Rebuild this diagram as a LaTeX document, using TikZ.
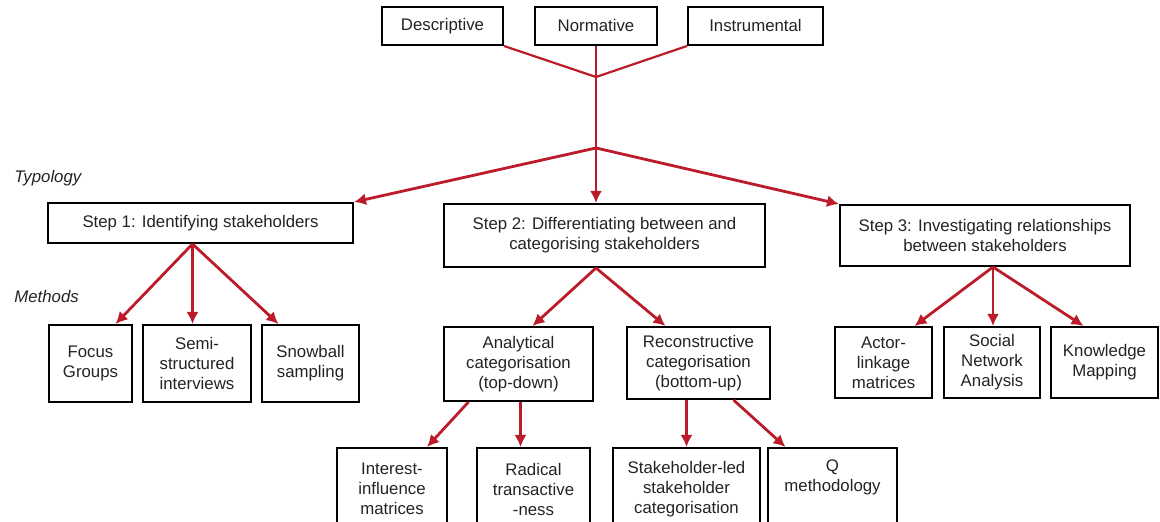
\documentclass[tikz,border=0pt]{standalone}
\usepackage{fontspec}
\setmainfont{Liberation Sans}
\usetikzlibrary{positioning,calc,arrows.meta}
\definecolor{linkred}{RGB}{188,28,42}
\definecolor{boxtext}{RGB}{35,35,35}

\begin{document}
\begin{tikzpicture}[
x=0.5pt,y=-0.5pt,
box/.style={
  draw,
  line width=1pt,
  text=boxtext,
  align=center,
  inner sep=1pt,
  font=\fontsize{8.4}{10}\selectfont
},
tag/.style={
  anchor=west,
  text=boxtext,
  inner sep=0pt,
  font=\fontsize{8.4}{10}\selectfont\itshape
},
feed/.style={
  draw=linkred,
  line width=1.1pt
},
link/.style={
  draw=linkred,
  line width=1.4pt,
  -{Latex[length=6pt,width=6pt]}
}
]
\useasboundingbox (0,0) rectangle (1160,522);
\clip (0,0) rectangle (1160,522);

% typology
\node[box,minimum width=60.5pt,minimum height=19pt] at (442.5,26)
  (desc) {Descriptive};
\node[box,minimum width=61pt,minimum height=19pt] at (596,26)
  (norm) {Normative};
\node[box,minimum width=67.5pt,minimum height=19pt] at (755.5,26)
  (instr) {Instrumental};
\coordinate (merge) at (596,77);
\coordinate (hub) at (596,148);

\node[tag] at (14,178) (typo) {Typology};
\node[tag] at (14,297) (meth) {Methods};

% steps
\node[box,minimum width=152.5pt,minimum height=20pt] at (200.5,223)
  (step1) {Step 1: Identifying stakeholders};
\node[box,minimum width=160.5pt,minimum height=31.5pt] at (604.5,235.5)
  (step2) {Step 2: Differentiating between and\\categorising stakeholders};
\node[box,minimum width=145pt,minimum height=30.5pt] at (985,235.5)
  (step3) {Step 3: Investigating relationships\\between stakeholders};

% methods
\node[box,minimum width=41.5pt,minimum height=38.5pt] at (90.5,363.5)
  (focus) {Focus\\Groups};
\node[box,minimum width=54pt,minimum height=38.5pt] at (197,363.5)
  (semi) {Semi-\\structured\\interviews};
\node[box,minimum width=48.5pt,minimum height=38.5pt] at (310.5,363.5)
  (snow) {Snowball\\sampling};
\node[box,minimum width=74.5pt,minimum height=37pt] at (518.5,364)
  (analyt) {Analytical\\categorisation\\(top-down)};
\node[box,minimum width=71.5pt,minimum height=36pt] at (698.5,363)
  (recon) {Reconstructive\\categorisation\\(bottom-up)};
\node[box,minimum width=48.5pt,minimum height=35.5pt] at (883.5,362.5)
  (actor) {Actor-\\linkage\\matrices};
\node[box,minimum width=48pt,minimum height=35.5pt] at (992,362.5)
  (sna) {Social\\Network\\Analysis};
\node[box,minimum width=53.5pt,minimum height=35.5pt] at (1104.5,362.5)
  (know) {Knowledge\\Mapping};

\node[box,minimum width=55pt,minimum height=41pt] at (392,489)
  (inter) {Interest-\\influence\\matrices};
\node[box,minimum width=56.5pt,minimum height=41pt] at (533.5,489)
  (radic) {Radical\\transactive\\-ness};
\node[box,minimum width=73.5pt,minimum height=41pt] at (686.5,489)
  (sled) {Stakeholder-led\\stakeholder\\categorisation};
\node[box,minimum width=64.5pt,minimum height=41pt] at (832.5,489)
  (qmeth) {Q\\methodology\\\strut};

\coordinate (fork1) at ($(step1.south)+(-8,0)$);
\coordinate (fork3) at ($(step3.south)+(8,0)$);
\coordinate (fork4) at ($(analyt.south)+(2,0)$);

\draw[feed] (desc.south east) -- (merge);
\draw[feed] (instr.south west) -- (merge);
\draw[feed] (norm.south) -- (merge) -- (hub);

\draw[link] (hub) -- (step1.north east);
\draw[link] (hub) -- (hub |- step2.north);
\draw[link] (hub) -- (step3.north west);

\draw[link] (fork1) -- ($(focus.north)+(25,0)$);
\draw[link] (fork1) -- (fork1 |- semi.north);
\draw[link] (fork1) -- ($(snow.north)+(-32,0)$);

\draw[link] (hub |- step2.south) -- ($(analyt.north)+(14,0)$);
\draw[link] (hub |- step2.south) -- ($(recon.north)+(-33,0)$);

\draw[link] (fork3) -- ($(actor.north)+(31,0)$);
\draw[link] (fork3) -- (fork3 |- sna.north);
\draw[link] (fork3) -- ($(know.north)+(-21,0)$);

\draw[link] ($(analyt.south)+(-50,0)$) -- ($(inter.north)+(35,0)$);
\draw[link] (fork4) -- (fork4 |- radic.north);
\draw[link] (sled.north |- recon.south) -- (sled.north);
\draw[link] ($(recon.south)+(35,0)$) -- ($(qmeth.north)+(-47,0)$);
\end{tikzpicture}
\end{document}
